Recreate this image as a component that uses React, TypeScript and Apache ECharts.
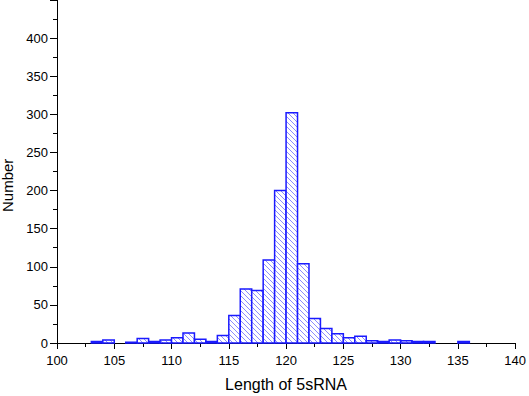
import React, { useEffect, useRef } from "react";
import * as echarts from "echarts";

const binStarts = [103, 104, 105, 106, 107, 108, 109, 110, 111, 112, 113, 114, 115, 116, 117, 118, 119, 120, 121, 122, 123, 124, 125, 126, 127, 128, 129, 130, 131, 132, 133, 134, 135];
const counts = [2, 4, 0, 1, 6, 2, 4, 7, 13, 5, 2, 10, 36, 71, 69, 109, 200, 302, 104, 32, 19, 12, 7, 9, 3, 2, 4, 3, 2, 2, 0, 0, 2];
const xTitle = "Length of 5sRNA";
const yTitle = "Number";

function makeHatch(): HTMLCanvasElement {
  const c = document.createElement("canvas");
  const s = 5;
  c.width = s;
  c.height = s;
  const ctx = c.getContext("2d")!;
  ctx.fillStyle = "#ffffff";
  ctx.fillRect(0, 0, s, s);
  ctx.strokeStyle = "#8c8cff";
  ctx.lineWidth = 1;
  ctx.beginPath();
  ctx.moveTo(-1, -1);
  ctx.lineTo(s + 1, s + 1);
  ctx.moveTo(-1, s - 1);
  ctx.lineTo(1, s + 1);
  ctx.moveTo(s - 1, -1);
  ctx.lineTo(s + 1, 1);
  ctx.stroke();
  return c;
}

export default function App() {
  const ref = useRef<HTMLDivElement>(null);
  useEffect(() => {
    const chart = echarts.init(ref.current!, null, { renderer: "svg" });
    const hatch = makeHatch();
    const data = binStarts
      .map((b, i) => [b, counts[i]])
      .filter((d) => d[1] > 0);
    const font = "'Liberation Sans', Arial, sans-serif";
    chart.setOption({
      animation: false,
      grid: { left: 57, right: 12, top: -7, bottom: 53 },
      xAxis: {
        type: "value",
        min: 100,
        max: 140,
        interval: 5,
        axisLine: { show: true, lineStyle: { color: "#000", width: 1 } },
        axisTick: { show: true, inside: false, length: 6, lineStyle: { color: "#000" } },
        minorTick: { show: true, splitNumber: 2, length: 4, lineStyle: { color: "#000" } },
        splitLine: { show: false },
        axisLabel: { color: "#000", fontFamily: font, fontSize: 13, margin: 11 },
      },
      yAxis: {
        type: "value",
        min: 0,
        max: 450,
        interval: 50,
        axisLine: { show: true, lineStyle: { color: "#000", width: 1 } },
        axisTick: { show: true, inside: false, length: 7, lineStyle: { color: "#000" } },
        minorTick: { show: true, splitNumber: 2, length: 4, lineStyle: { color: "#000" } },
        splitLine: { show: false },
        axisLabel: { color: "#000", fontFamily: font, fontSize: 13, margin: 9, showMaxLabel: false },
      },
      graphic: [
        {
          type: "text",
          x: 286,
          y: 376,
          style: { text: xTitle, fill: "#000", font: "16px " + font, textAlign: "center" },
        },
        {
          type: "text",
          x: 0,
          y: 212,
          rotation: Math.PI / 2,
          style: { text: yTitle, fill: "#000", font: "15px " + font },
        },
      ],
      series: [
        {
          type: "custom",
          data,
          renderItem: (params: any, api: any) => {
            const x0 = api.value(0);
            const y = api.value(1);
            const p0 = api.coord([x0, 0]);
            const p1 = api.coord([x0 + 1, y]);
            return {
              type: "rect",
              shape: { x: p0[0], y: p1[1], width: p1[0] - p0[0], height: p0[1] - p1[1] },
              style: {
                fill: { image: hatch, repeat: "repeat" },
                stroke: "#1a1aff",
                lineWidth: 1.5,
              },
            };
          },
        },
      ],
    });
    return () => chart.dispose();
  }, []);
  return <div ref={ref} style={{ width: 529, height: 396, position: "absolute", left: 0, top: 0 }} />;
}
